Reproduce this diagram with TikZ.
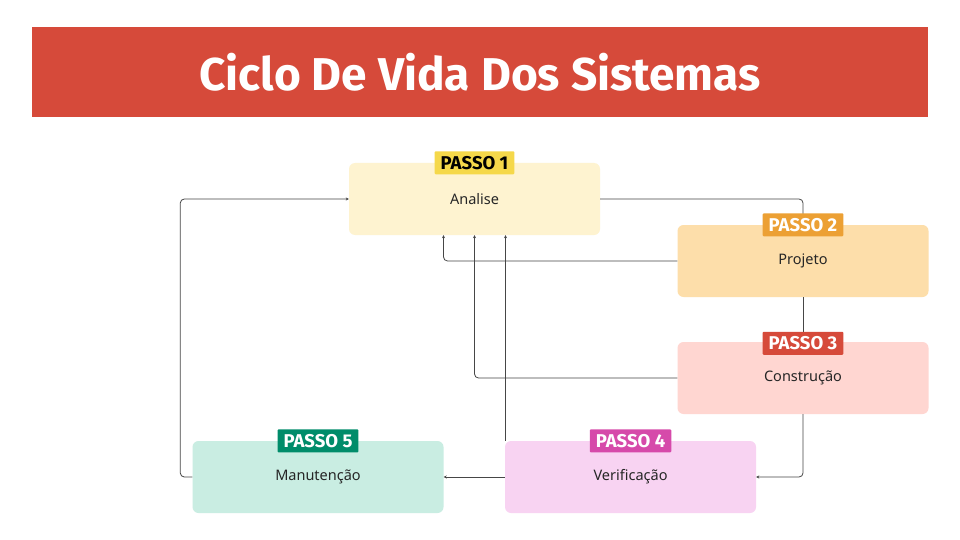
\documentclass[tikz,border=0pt]{standalone}
\usepackage{fontspec}
\setmainfont{Noto Sans}
\newfontfamily\headfont{Fira Sans}
\usetikzlibrary{arrows.meta}
\definecolor{titlered}{RGB}{214,74,58}
\definecolor{fillA}{RGB}{254,243,208}
\definecolor{fillB}{RGB}{253,222,170}
\definecolor{fillC}{RGB}{255,214,209}
\definecolor{fillD}{RGB}{248,211,242}
\definecolor{fillE}{RGB}{201,237,226}
\definecolor{badgeA}{RGB}{245,216,74}
\definecolor{badgeB}{RGB}{236,160,52}
\definecolor{badgeC}{RGB}{214,74,58}
\definecolor{badgeD}{RGB}{214,74,170}
\definecolor{badgeE}{RGB}{0,140,106}
\definecolor{linecol}{RGB}{70,70,70}
\begin{document}
\begin{tikzpicture}[x=1pt,y=-1pt,
  box/.style={rounded corners=6pt, minimum width=251pt, minimum height=72pt, inner sep=0pt, font=\fontsize{14.5}{16}\selectfont, text=black!85},
  badge/.style={rounded corners=1pt, minimum height=23pt, minimum width=79pt, inner xsep=6pt, inner ysep=0pt, font=\headfont\bfseries\fontsize{18.5}{20}\selectfont},
  conn/.style={draw=linecol, line width=0.8pt, rounded corners=4pt},
  arr/.style={conn, -{Stealth[length=3pt,width=3pt]}}
]
\useasboundingbox[fill=white] (0,0) rectangle (960,540);
\node[fill=titlered, minimum width=896pt, minimum height=90pt, inner sep=0pt,
      text=white, font=\headfont\bfseries\fontsize{46}{50}\selectfont] (title) at (480,72) {Ciclo De Vida Dos Sistemas};

\node[box, fill=fillA] (analise) at (474.5,199) {Analise};
\node[box, fill=fillB] (projeto) at (803,261) {Projeto};
\node[box, fill=fillC] (construcao) at (803,378) {Construção};
\node[box, fill=fillD] (verif) at (630.5,477) {Verificação};
\node[box, fill=fillE] (manut) at (318,477) {Manutenção};

\draw[arr] (analise.east) -| (projeto.north);
\draw[arr] (projeto.west) -| ([xshift=-31pt]analise.south);
\draw[arr] (construcao.west) -| (analise.south);
\draw[arr] ([xshift=31pt]analise.south |- verif.north) -- ([xshift=31pt]analise.south);
\draw[conn] (projeto.south) -- (construcao.north);
\draw[arr] (construcao.south) |- (verif.east);
\draw[arr] (verif.west) -- (manut.east);
\draw[arr] (manut.west) -- ++(-12,0) |- (analise.west);

\node[badge, fill=badgeA, text=black] (b1) at (analise.north) {PASSO 1};
\node[badge, fill=badgeB, text=white] (b2) at (projeto.north) {PASSO 2};
\node[badge, fill=badgeC, text=white] (b3) at ([yshift=-1.5pt]construcao.north) {PASSO 3};
\node[badge, fill=badgeD, text=white] (b4) at (verif.north) {PASSO 4};
\node[badge, fill=badgeE, text=white] (b5) at (manut.north) {PASSO 5};
\end{tikzpicture}
\end{document}
